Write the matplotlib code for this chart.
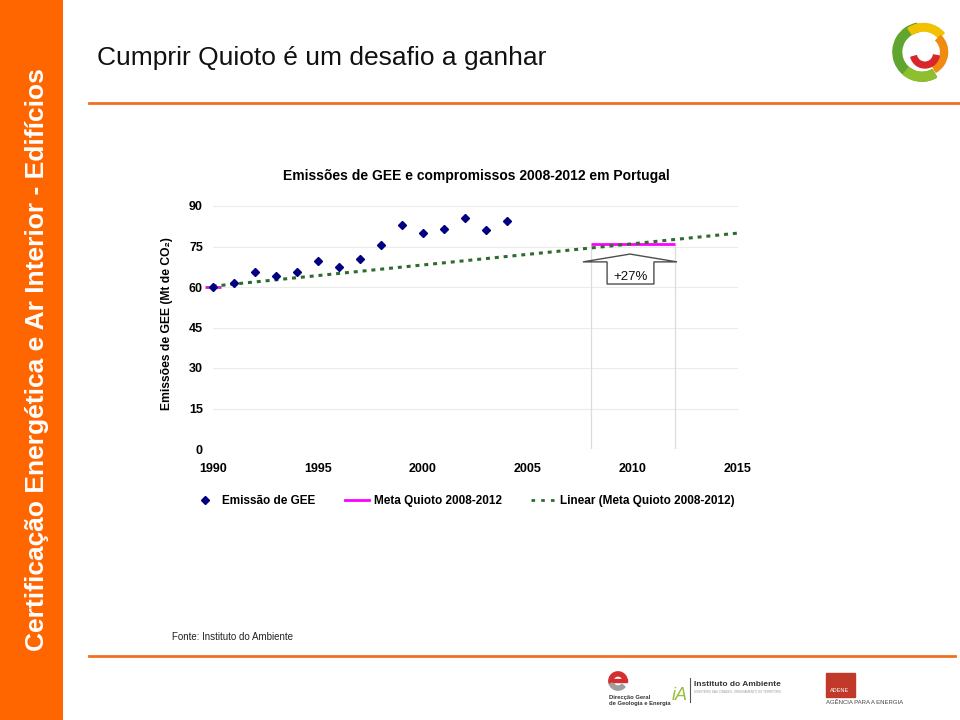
import numpy as np
import matplotlib
matplotlib.use("Agg")
import matplotlib.pyplot as plt
from matplotlib.lines import Line2D
from matplotlib.patches import Polygon, Rectangle, Wedge

# ---------------- data ----------------
years = [1990, 1991, 1992, 1993, 1994, 1995, 1996, 1997, 1998, 1999,
         2000, 2001, 2002, 2003, 2004]
emissions = [59.9, 61.3, 65.4, 64.1, 65.6, 69.8, 67.4, 70.5, 75.5, 82.8,
             80.1, 81.3, 85.6, 81.1, 84.5]
meta_years = [1990, 2008, 2009, 2010, 2011, 2012]
meta_values = [59.9, 76.1, 76.1, 76.1, 76.1, 76.1]
trend_range = [1990, 2015]
x_ticks = [1990, 1995, 2000, 2005, 2010, 2015]
y_ticks = [0, 15, 30, 45, 60, 75, 90]
arrow_label = "+27%"

plt.rcParams['font.family'] = ["Liberation Sans", "DejaVu Sans"]

W, H = 960, 720
fig = plt.figure(figsize=(9.6, 7.2), dpi=100)
fig.patch.set_facecolor("white")

def fx(px):
    return px / W

def fy(py):
    return 1 - py / H

# ---------------- slide decoration ----------------
bar = fig.add_axes([0, 0, fx(63), 1])
bar.set_axis_off()
bar.add_patch(Rectangle((0, 0), 1, 1, color="#FF6600", transform=bar.transAxes))
fig.text(fx(37), fy(360), "Certificação Energética e Ar Interior - Edifícios",
         rotation=90, color="white", fontsize=19, fontweight="bold",
         ha="center", va="center")

fig.text(fx(97), fy(58), "Cumprir Quioto é um desafio a ganhar",
         fontsize=19, ha="left", va="center", color="#111111")

fig.add_artist(Line2D([fx(89), fx(960)], [fy(103), fy(103)],
                      color="#F07020", lw=2))
fig.add_artist(Line2D([fx(89), fx(955)], [fy(656), fy(656)],
                      color="#F07020", lw=2))

fig.text(fx(172), fy(637), "Fonte: Instituto do Ambiente", fontsize=7,
         ha="left", va="center", color="#222222")

# ---------------- chart ----------------
left, right = 212.7, 737.7
top, bottom = 206, 449
ax = fig.add_axes([fx(left), fy(bottom), fx(right - left), (bottom - top) / H])
ax.set_xlim(trend_range[0], trend_range[1])
ax.set_ylim(0, 90)
for s in ax.spines.values():
    s.set_visible(False)
ax.set_xticks(x_ticks)
ax.set_yticks(y_ticks)
ax.tick_params(axis="y", length=0, labelsize=9, pad=7)
ax.tick_params(axis="x", length=0, labelsize=9, pad=10)
for lab in ax.get_xticklabels() + ax.get_yticklabels():
    lab.set_fontweight("bold")
ax.grid(axis="y", color="#EBEBEB", lw=0.8)
ax.set_axisbelow(True)
ax.set_facecolor("none")

# drop lines 2008 / 2012
ax.vlines([meta_years[1], meta_years[-1]], 0, meta_values[-1],
          color="#DCDCDC", lw=0.9, zorder=1)

# linear trend of the Meta series
coef = np.polyfit(meta_years, meta_values, 1)
tx = np.array(trend_range, dtype=float)
ax.plot(tx, np.polyval(coef, tx), color="#2E6B2E", lw=2.2,
        linestyle=(0, (1.3, 1.6)), zorder=3, clip_on=False)

# meta line
ax.plot(meta_years[1:], meta_values[1:], color="#FF00FF", lw=2, zorder=2,
        solid_capstyle="butt")
ax.plot(meta_years[:1], meta_values[:1], marker="_", color="#CC22CC",
        markersize=11, mew=2, linestyle="none", zorder=2, clip_on=False)

# emissions
ax.plot(years, emissions, linestyle="none", marker="D", markersize=4.3,
        color="#000080", zorder=4, clip_on=False)

# block arrow
arrow_pts = [(2009.87, 72.2), (2012.11, 69.3), (2011.01, 69.3), (2011.01, 61.1),
             (2008.78, 61.1), (2008.78, 69.3), (2007.63, 69.3)]
ax.add_patch(Polygon(arrow_pts, closed=True, facecolor="white",
                     edgecolor="#4D4D4D", lw=1.0, zorder=5))
ax.text(2009.9, 63.8, arrow_label, ha="center", va="center", fontsize=9.5,
        zorder=6, color="#111111")

fig.text(fx(476), fy(176), "Emissões de GEE e compromissos 2008-2012 em Portugal",
         fontsize=10, fontweight="bold", ha="center", va="center")
fig.text(fx(167), fy(324), "Emissões de GEE (Mt de CO₂)", rotation=90,
         fontsize=8.7, fontweight="bold", ha="center", va="center")

handles = [
    Line2D([], [], linestyle="none", marker="D", markersize=4.3, color="#000080"),
    Line2D([], [], color="#FF00FF", lw=2),
    Line2D([], [], color="#2E6B2E", lw=2, linestyle=(0, (1.3, 2.2))),
]
labels = ["Emissão de GEE", "Meta Quioto 2008-2012", "Linear (Meta Quioto 2008-2012)"]
fig.legend(handles, labels, loc="center left", bbox_to_anchor=(fx(193), fy(501)),
           ncol=3, frameon=False, prop={"weight": "bold", "size": 8.5},
           handlelength=2.1, handletextpad=0.35, columnspacing=2.5,
           borderpad=0, borderaxespad=0)

# ---------------- logos ----------------
lg = fig.add_axes([fx(890), fy(84), fx(64), 64 / H])
lg.set_aspect("equal")
lg.set_xlim(-1.1, 1.1)
lg.set_ylim(-1.1, 1.1)
lg.set_axis_off()
lg.add_patch(Wedge((0, 0), 1.0, 100, 300, width=0.3, color="#5FA52E"))
lg.add_patch(Wedge((0, 0), 1.0, 230, 300, width=0.3, color="#8DBF2E"))
lg.add_patch(Wedge((0.05, 0.05), 0.93, 40, 125, width=0.26, color="#F2C200"))
lg.add_patch(Wedge((0.08, 0.0), 0.8, -60, 45, width=0.24, color="#F08A10"))
lg.add_patch(Wedge((0.1, -0.05), 0.5, 195, 350, width=0.2, color="#D8262A"))

dg = fig.add_axes([fx(607), fy(692), fx(22), 22 / H])
dg.set_aspect("equal")
dg.set_xlim(-1.2, 1.2)
dg.set_ylim(-1.2, 1.2)
dg.set_axis_off()
dg.add_patch(Wedge((0, 0), 1.0, 0, 200, width=0.45, color="#D32F2F"))
dg.add_patch(Wedge((0, 0), 1.0, 200, 320, width=0.45, color="#9E9E9E"))
dg.add_patch(Rectangle((-0.6, -0.1), 1.6, 0.3, color="#D32F2F"))
fig.text(fx(609), fy(697), "Direcção Geral", fontsize=4.2, fontweight="bold",
         ha="left", va="center", color="#333333")
fig.text(fx(609), fy(704), "de Geologia e Energia", fontsize=4.2, fontweight="bold",
         ha="left", va="center", color="#333333")

fig.text(fx(680), fy(695), "iA", fontsize=13, ha="center", va="center",
         color="#9BBE3C", style="italic")
fig.add_artist(Line2D([fx(690), fx(690)], [fy(678), fy(702)], color="#555555", lw=0.8))
fig.text(fx(694), fy(684), "Instituto do Ambiente", fontsize=6, fontweight="bold",
         ha="left", va="center", color="#333333")
fig.text(fx(694), fy(692), "MINISTÉRIO DAS CIDADES, ORDENAMENTO DO TERRITÓRIO",
         fontsize=2.2, ha="left", va="center", color="#999999")

fig.add_artist(Rectangle((fx(826), fy(697)), fx(29), 24 / H, color="#C0392B",
                         transform=fig.transFigure))
fig.text(fx(840), fy(690), "ADENE", fontsize=4, color="white", ha="center",
         va="center")
fig.text(fx(826), fy(702), "AGÊNCIA PARA A ENERGIA", fontsize=4.3, ha="left",
         va="center", color="#444444")

fig.savefig("out.png", dpi=100, facecolor="white")
